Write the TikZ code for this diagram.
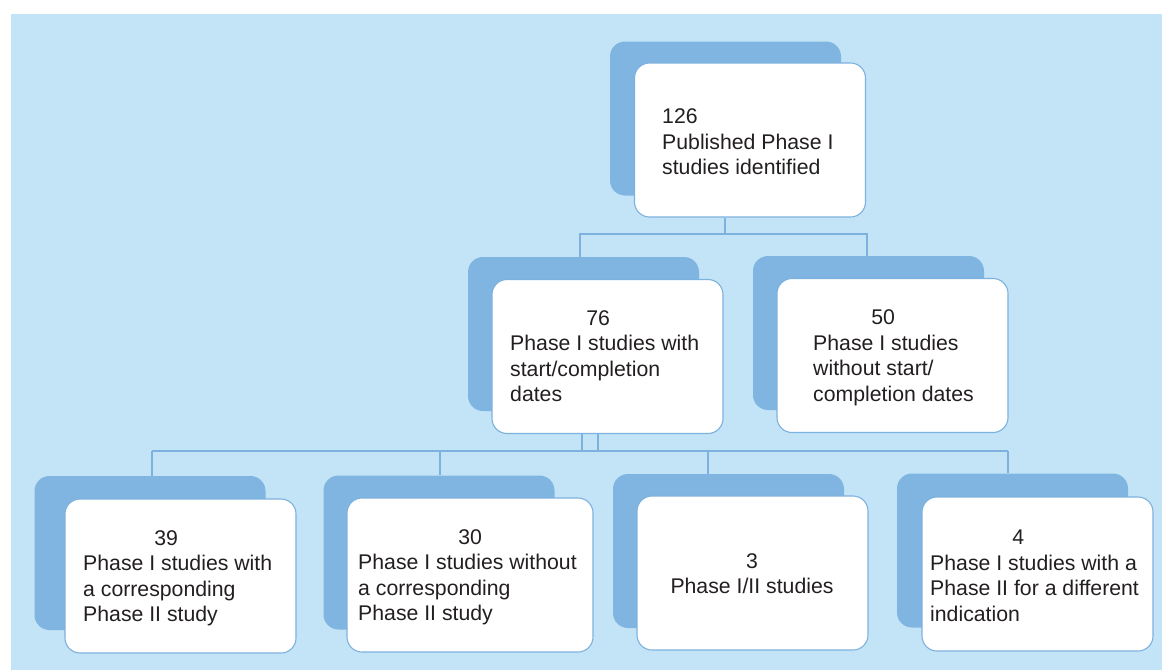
\documentclass[tikz,border=0pt]{standalone}
\usepackage{fontspec}
\setmainfont{Liberation Sans}
\usetikzlibrary{backgrounds}
\definecolor{bgblue}{HTML}{C2E4F6}
\definecolor{shade}{HTML}{80B4E1}
\definecolor{linecol}{HTML}{7DB1DE}
\definecolor{txtcol}{HTML}{231F20}
\tikzset{
  shadowbox/.style={fill=shade, draw=none, rounded corners=15pt, minimum width=231pt, minimum height=154pt, inner sep=0pt},
  whitebox/.style={fill=white, draw=linecol, line width=1.1pt, rounded corners=15pt, minimum width=231pt, minimum height=154pt, inner sep=0pt},
  label/.style={font=\fontsize{21.25}{25.5}\selectfont, text=txtcol, align=left, inner sep=0pt, anchor=west},
  conn/.style={draw=linecol, line width=1.2pt},
}
\begin{document}
\begin{tikzpicture}[x=1pt, y=-1pt]
\useasboundingbox (0,0) rectangle (1162,670);
% top
\node[shadowbox] (s126) at (725.5,118.5) {};
\node[whitebox] (w126) at (750,140) {};
\node[label] (t126) at (662,142) {126\\Published Phase I\\studies identified};
% level 2
\node[shadowbox] (s76) at (583.5,334) {};
\node[whitebox] (w76) at (607.5,356.5) {};
\node[label] (t76) at (510,356) {\makebox[176pt]{76}\\Phase I studies with\\start/completion\\dates};
\node[shadowbox] (s50) at (868.5,333) {};
\node[whitebox] (w50) at (892.5,355.5) {};
\node[label] (t50) at (813,358) {\makebox[140pt]{50}\\Phase I studies\\without start/\\completion dates};
% level 3
\node[shadowbox] (s39) at (150,553) {};
\node[whitebox] (w39) at (180.5,576) {};
\node[label] (t39) at (83,578.5) {\makebox[166pt]{39}\\Phase I studies with\\a corresponding\\Phase II study};
\node[shadowbox] (s30) at (439,552.5) {};
\node[whitebox, minimum width=246pt] (w30) at (470,575) {};
\node[label] (t30) at (358,577.5) {\makebox[224pt]{30}\\Phase I studies without\\a corresponding\\Phase II study};
\node[shadowbox] (s3) at (728.5,551) {};
\node[whitebox] (w3) at (752.5,573) {};
\node[label, align=center, anchor=center] (t3) at (752,573.5) {3\\Phase I/II studies};
\node[shadowbox] (s4) at (1012.5,550.5) {};
\node[whitebox] (w4) at (1037.5,574) {};
\node[label] (t4) at (930,576) {\makebox[176pt]{4}\\Phase I studies with a\\Phase II for a different\\indication};
% junction coordinates
\coordinate (j1) at (725,234);
\coordinate (j1l) at (580,234);
\coordinate (j1r) at (867,234);
\coordinate (j2a) at (582,451);
\coordinate (j2b) at (598,451);
\coordinate (c1) at (152,451);
\coordinate (c2) at (440,451);
\coordinate (c3) at (708,451);
\coordinate (c4) at (1008,451);
\begin{scope}[on background layer]
\fill[bgblue] (11,14) rectangle (1162,670);
\draw[conn] (j1 |- w126.south) -- (j1);
\draw[conn] (j1l |- s76.north) -- (j1l) -- (j1r) -- (j1r |- s50.north);
\draw[conn] (j2a |- w76.south) -- (j2a);
\draw[conn] (j2b |- w76.south) -- (j2b);
\draw[conn] (c1) -- (c4);
\draw[conn] (c1) -- (c1 |- s39.north);
\draw[conn] (c2) -- (c2 |- s30.north);
\draw[conn] (c3) -- (c3 |- s3.north);
\draw[conn] (c4) -- (c4 |- s4.north);
\end{scope}
\end{tikzpicture}
\end{document}
